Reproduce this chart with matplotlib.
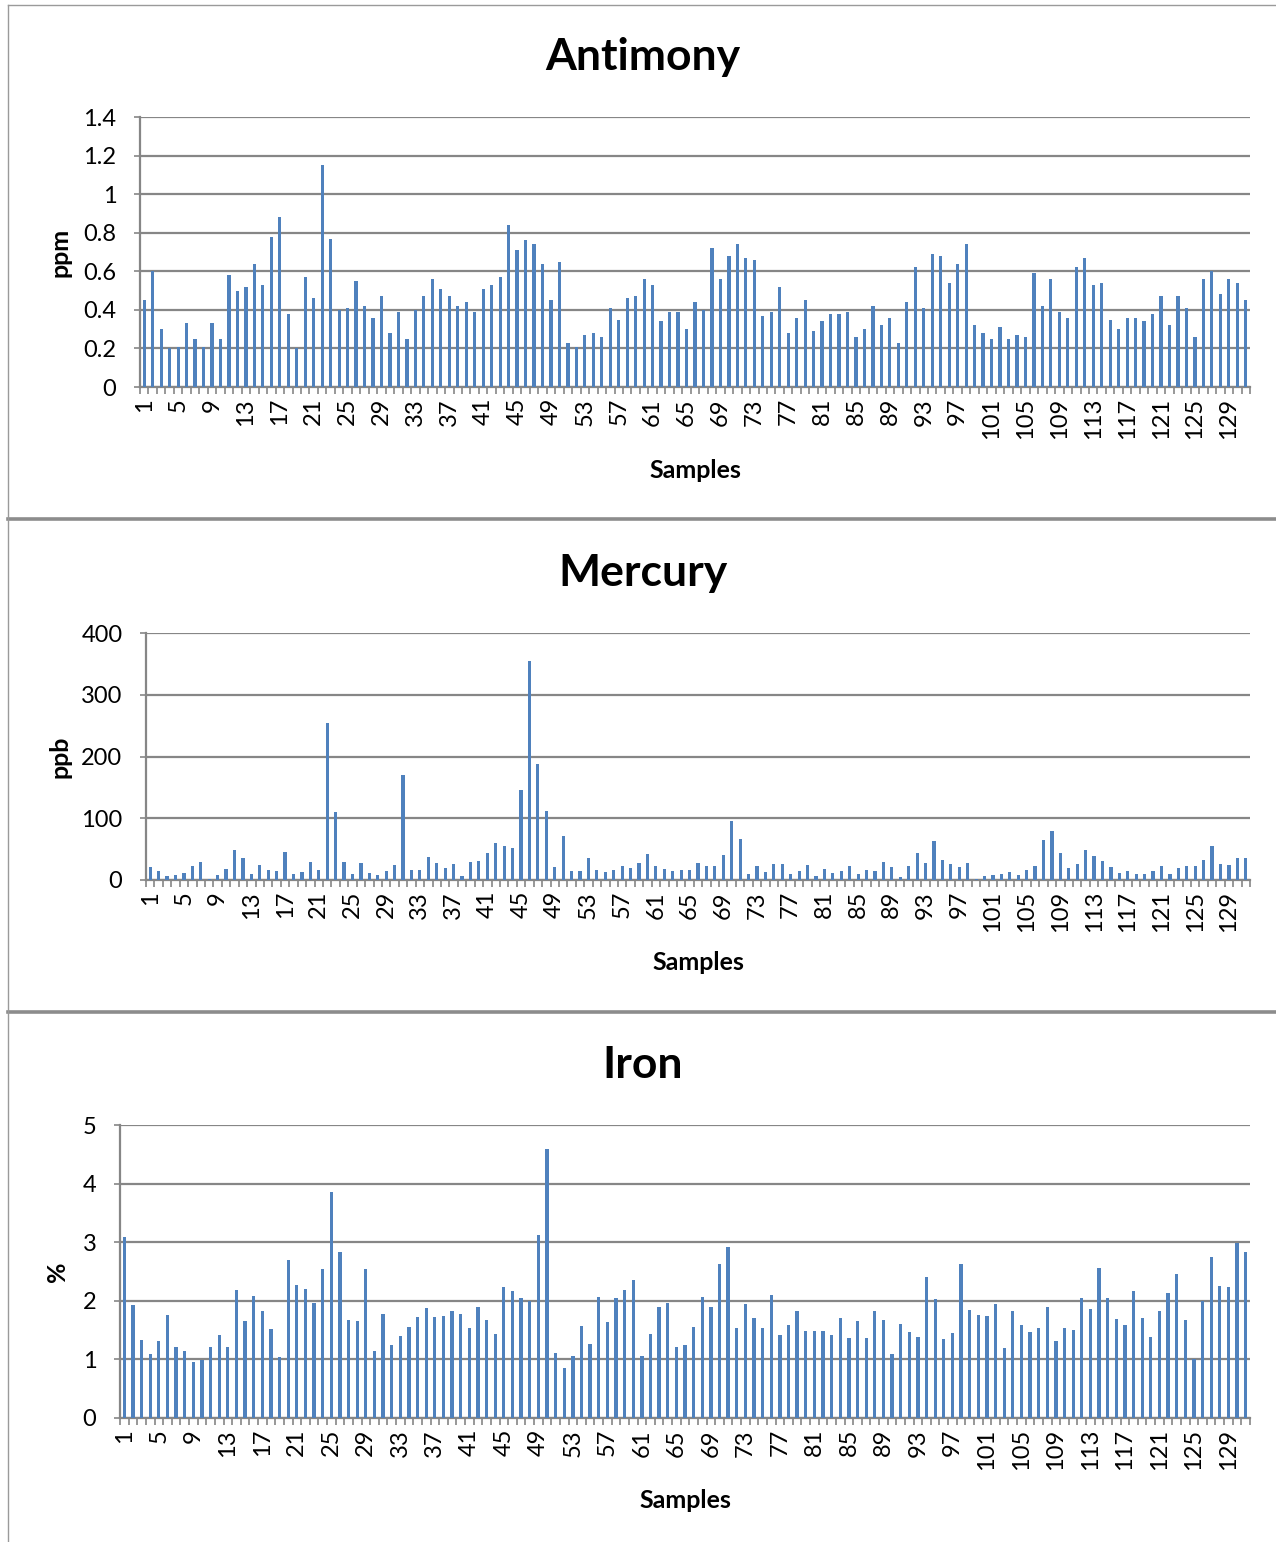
import matplotlib
matplotlib.use("Agg")
import matplotlib.pyplot as plt
from matplotlib.lines import Line2D
import numpy as np

plt.rcParams['font.family'] = ['Lato', 'DejaVu Sans']

samples = list(range(1, 132))

antimony = [0.45, 0.60, 0.30, 0.20, 0.21, 0.33, 0.25, 0.21, 0.33, 0.25,
            0.58, 0.50, 0.52, 0.64, 0.53, 0.78, 0.88, 0.38, 0.20, 0.57,
            0.46, 1.15, 0.77, 0.40, 0.41, 0.55, 0.42, 0.36, 0.47, 0.28,
            0.39, 0.25, 0.40, 0.47, 0.56, 0.51, 0.47, 0.42, 0.44, 0.39,
            0.51, 0.53, 0.57, 0.84, 0.71, 0.76, 0.74, 0.64, 0.45, 0.65,
            0.23, 0.21, 0.27, 0.28, 0.26, 0.41, 0.35, 0.46, 0.47, 0.56,
            0.53, 0.34, 0.39, 0.39, 0.30, 0.44, 0.40, 0.72, 0.56, 0.68,
            0.74, 0.67, 0.66, 0.37, 0.39, 0.52, 0.28, 0.36, 0.45, 0.29,
            0.34, 0.38, 0.38, 0.39, 0.26, 0.30, 0.42, 0.32, 0.36, 0.23,
            0.44, 0.62, 0.41, 0.69, 0.68, 0.54, 0.64, 0.74, 0.32, 0.28,
            0.25, 0.31, 0.25, 0.27, 0.26, 0.59, 0.42, 0.56, 0.39, 0.36,
            0.62, 0.67, 0.53, 0.54, 0.35, 0.30, 0.36, 0.36, 0.34, 0.38,
            0.47, 0.32, 0.47, 0.41, 0.26, 0.56, 0.60, 0.48, 0.56, 0.54,
            0.45]

mercury = [20.5, 15, 7, 8, 11, 22, 29, 2, 8, 18,
           49, 36, 10, 24, 16, 15, 46, 10, 13, 29,
           17, 254, 110, 29, 10, 28, 11, 8, 15, 24,
           170, 16, 17, 37, 28, 20, 26, 6.5, 29, 31,
           44, 60, 55, 52, 146, 354, 188, 111, 20.5, 71,
           15, 15, 35, 17, 13.5, 16, 22, 19.5, 28, 42,
           22, 18, 15, 16, 16, 28, 22, 22, 40.5, 95,
           66.5, 10, 22, 13, 26, 26, 9, 15, 24, 7,
           18, 11, 15, 23, 10, 17, 15, 29, 21, 5,
           22, 44, 28, 63, 33, 26, 21, 28, 2, 7,
           8, 9, 13.5, 8, 16, 23, 65, 79, 43, 19.5,
           26.5, 49, 39.5, 31, 21, 11, 15, 9, 9, 15,
           22, 9, 20, 22, 23, 32, 55, 26.5, 24, 36,
           36]

iron = [3.09, 1.93, 1.33, 1.10, 1.32, 1.75, 1.21, 1.15, 0.95, 0.99,
        1.22, 1.41, 1.22, 2.18, 1.66, 2.08, 1.82, 1.52, 1.04, 2.70,
        2.27, 2.20, 1.96, 2.54, 3.85, 2.84, 1.68, 1.65, 2.54, 1.15,
        1.77, 1.25, 1.40, 1.55, 1.72, 1.87, 1.73, 1.74, 1.82, 1.78,
        1.54, 1.89, 1.67, 1.44, 2.24, 2.16, 2.05, 2.00, 3.13, 4.59,
        1.11, 0.86, 1.06, 1.57, 1.27, 2.07, 1.64, 2.05, 2.18, 2.35,
        1.06, 1.44, 1.89, 1.97, 1.21, 1.25, 1.56, 2.07, 1.90, 2.63,
        2.91, 1.54, 1.95, 1.70, 1.54, 2.10, 1.41, 1.59, 1.82, 1.49,
        1.48, 1.48, 1.41, 1.71, 1.37, 1.66, 1.37, 1.82, 1.68, 1.09,
        1.60, 1.47, 1.39, 2.41, 2.03, 1.35, 1.45, 2.63, 1.85, 1.75,
        1.74, 1.94, 1.19, 1.83, 1.58, 1.47, 1.54, 1.90, 1.31, 1.54,
        1.50, 2.04, 1.86, 2.56, 2.04, 1.69, 1.58, 2.17, 1.71, 1.38,
        1.83, 2.13, 2.46, 1.67, 1.00, 1.99, 2.75, 2.26, 2.24, 2.98,
        2.84]

W, H = 1276, 1542
fig = plt.figure(figsize=(W / 100, H / 100), dpi=100)
fig.patch.set_facecolor('white')

BAR = '#4F81BD'
GRID = '#868686'


def px_axes(l, r, t, b):
    return fig.add_axes([l / W, 1 - b / H, (r - l) / W, (b - t) / H])


panels = [
    dict(title='Antimony', ylabel='ppm', data=antimony, box=(140, 1250, 117, 387),
         yticks=np.arange(0, 1.41, 0.2), ylim=(0, 1.4),
         ylabels=['0', '0.2', '0.4', '0.6', '0.8', '1', '1.2', '1.4'],
         title_y=57, ylab_x=60, xlab_y=471),
    dict(title='Mercury', ylabel='ppb', data=mercury, box=(146, 1250, 633, 880),
         yticks=np.arange(0, 401, 100), ylim=(0, 400),
         ylabels=['0', '100', '200', '300', '400'],
         title_y=573, ylab_x=60, xlab_y=963),
    dict(title='Iron', ylabel='%', data=iron, box=(120, 1250, 1125, 1418),
         yticks=np.arange(0, 6, 1), ylim=(0, 5),
         ylabels=['0', '1', '2', '3', '4', '5'],
         title_y=1065, ylab_x=58, xlab_y=1501),
]

for p in panels:
    l, r, t, b = p['box']
    ax = px_axes(l, r, t, b)
    ax.bar(samples, p['data'], width=0.38, color=BAR, zorder=3)
    ax.set_xlim(0.5, len(samples) + 0.5)
    ax.set_ylim(*p['ylim'])
    ax.set_yticks(p['yticks'])
    ax.set_yticklabels(p['ylabels'], fontsize=17)
    ax.yaxis.grid(True, color=GRID, lw=1.6, zorder=0)
    ax.set_axisbelow(True)
    for s in ['top', 'right']:
        ax.spines[s].set_visible(False)
    for s in ['left', 'bottom']:
        ax.spines[s].set_color(GRID)
        ax.spines[s].set_linewidth(1.6)
    ax.tick_params(axis='y', length=4, color=GRID, width=1.2, pad=13)
    major = samples[::4]
    ax.set_xticks(major)
    ax.set_xticklabels([str(s) for s in major], rotation=90, fontsize=17)
    ax.set_xticks(np.arange(0.5, len(samples) + 1, 1), minor=True)
    ax.tick_params(axis='x', which='major', length=0, pad=8)
    ax.tick_params(axis='x', which='minor', length=5, color=GRID, width=1.2)
    cx = (l + r) / 2
    fig.text(643 / W, 1 - p['title_y'] / H, p['title'], fontsize=32,
             fontweight='bold', ha='center', va='center')
    fig.text(p['ylab_x'] / W, 1 - ((t + b) / 2) / H, p['ylabel'], fontsize=18,
             fontweight='bold', rotation=90, ha='center', va='center')
    fig.text(cx / W, 1 - p['xlab_y'] / H, 'Samples', fontsize=18,
             fontweight='bold', ha='center', va='center')


def hline(y, x0, x1, lw, c='#8c8c8c'):
    fig.add_artist(Line2D([x0 / W, x1 / W], [1 - y / H, 1 - y / H], color=c, lw=lw,
                          transform=fig.transFigure))


hline(5, 8, 1276, 1.0, '#9a9a9a')
hline(519, 8, 1276, 2.6)
hline(1012, 8, 1276, 2.6)
fig.add_artist(Line2D([8 / W, 8 / W], [1 - 5 / H, 0], color='#9a9a9a', lw=1.0,
                      transform=fig.transFigure))

fig.savefig('out.png', dpi=100, facecolor='white')
